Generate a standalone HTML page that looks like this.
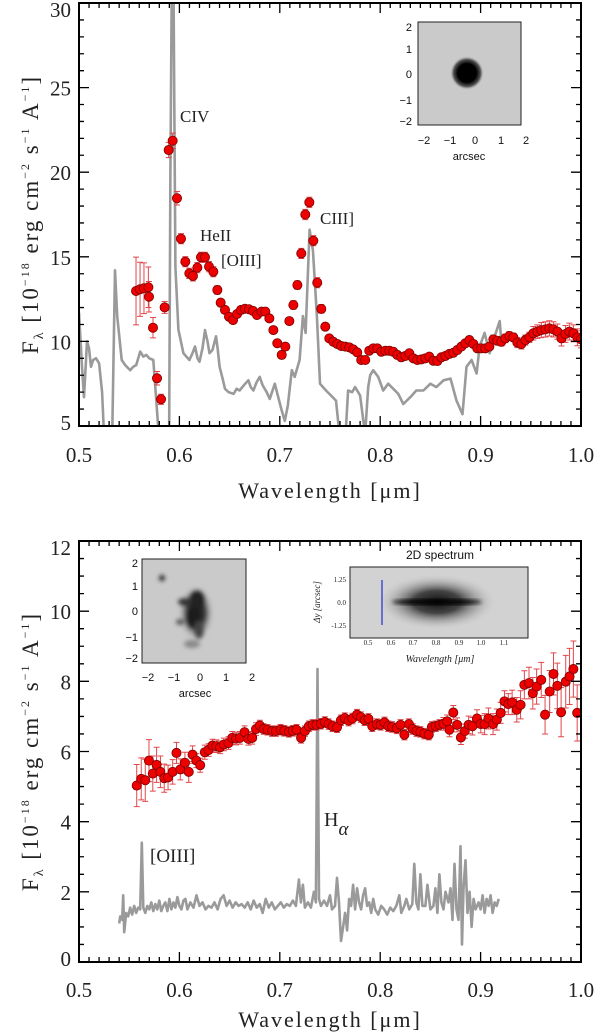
<!DOCTYPE html>
<html><head><meta charset="utf-8"><style>
body{margin:0;background:#fff;}
svg{display:block;}
text{font-family:"Liberation Serif",serif;fill:#222;}
.ins{font-family:"Liberation Sans",sans-serif;fill:#111;}
</style></head><body>
<svg id="fig" width="600" height="1035" viewBox="0 0 600 1035" xmlns="http://www.w3.org/2000/svg">
<defs>
<clipPath id="clipTop"><rect x="79" y="3" width="502" height="423"/></clipPath>
<clipPath id="clipBot"><rect x="79" y="541" width="502" height="421"/></clipPath>
<radialGradient id="blob"><stop offset="0" stop-color="#000"/><stop offset="0.55" stop-color="#000"/><stop offset="0.8" stop-color="#555"/><stop offset="1" stop-color="#c9c9c9" stop-opacity="0"/></radialGradient>
<radialGradient id="gal"><stop offset="0" stop-color="#111"/><stop offset="0.5" stop-color="#333"/><stop offset="1" stop-color="#c9c9c9" stop-opacity="0"/></radialGradient>
<radialGradient id="spec"><stop offset="0" stop-color="#111"/><stop offset="0.4" stop-color="#444"/><stop offset="1" stop-color="#cfcfcf" stop-opacity="0"/></radialGradient>
<filter id="bl"><feGaussianBlur stdDeviation="2"/></filter>
</defs>
<g id="top"></g>
<g id="bot"></g>

<!-- top inset -->
<g>
<rect x="418" y="22" width="103" height="103" fill="#cacaca" stroke="#222" stroke-width="1"/>
<circle cx="467" cy="73" r="17" fill="url(#blob)"/>
<g class="ins" font-size="11" text-anchor="end">
<text x="412" y="31" class="ins">2</text><text x="412" y="53" class="ins">1</text><text x="412" y="78" class="ins">0</text><text x="412" y="104" class="ins">−1</text><text x="412" y="125" class="ins">−2</text>
</g>
<g font-size="11" text-anchor="middle">
<text x="424" y="144" class="ins">−2</text><text x="450" y="144" class="ins">−1</text><text x="475" y="144" class="ins">0</text><text x="501" y="144" class="ins">1</text><text x="526" y="144" class="ins">2</text>
<text x="469" y="160" class="ins">arcsec</text>
</g>
</g>

<!-- bottom inset 1 -->
<g>
<rect x="142" y="559" width="104" height="104" fill="#cacaca" stroke="#222" stroke-width="1"/>
<g filter="url(#bl)">
<ellipse cx="196" cy="613" rx="18" ry="28" fill="url(#gal)"/>
<ellipse cx="197" cy="600" rx="8" ry="10" fill="#222"/>
<ellipse cx="193" cy="618" rx="7" ry="11" fill="#1a1a1a"/>
<ellipse cx="185" cy="602" rx="7" ry="4" fill="#333"/>
<ellipse cx="199" cy="630" rx="5" ry="9" fill="#444"/>
<ellipse cx="192" cy="644" rx="8" ry="4" fill="#888"/>
<ellipse cx="180" cy="622" rx="4" ry="3" fill="#555"/>
<circle cx="162" cy="578" r="3" fill="#222"/>
</g>
<g font-size="11" text-anchor="end">
<text x="138" y="567" class="ins">2</text><text x="138" y="590" class="ins">1</text><text x="138" y="615" class="ins">0</text><text x="138" y="641" class="ins">−1</text><text x="138" y="662" class="ins">−2</text>
</g>
<g font-size="11" text-anchor="middle">
<text x="148" y="681" class="ins">−2</text><text x="174" y="681" class="ins">−1</text><text x="200" y="681" class="ins">0</text><text x="226" y="681" class="ins">1</text><text x="252" y="681" class="ins">2</text>
<text x="195" y="697" class="ins">arcsec</text>
</g>
</g>

<!-- bottom inset 2 -->
<g>
<text x="440" y="559" font-size="12" text-anchor="middle" class="ins">2D spectrum</text>
<rect x="350" y="567" width="178" height="71" fill="#d2d2d2" stroke="#222" stroke-width="1"/>
<ellipse cx="437" cy="602" rx="60" ry="28" fill="url(#spec)"/>
<ellipse cx="437" cy="602" rx="45" ry="3" fill="#000" filter="url(#bl)"/>
<line x1="382" y1="580" x2="382" y2="625" stroke="#1f2fd0" stroke-width="1.2"/>
<g font-size="7" text-anchor="end" font-family="Liberation Serif,serif">
<text x="346" y="582">1.25</text><text x="346" y="605">0.0</text><text x="346" y="628">-1.25</text>
</g>
<g font-size="7" text-anchor="middle">
<text x="368" y="645">0.5</text><text x="391" y="645">0.6</text><text x="413" y="645">0.7</text><text x="436" y="645">0.8</text><text x="459" y="645">0.9</text><text x="481" y="645">1.0</text><text x="504" y="645">1.1</text>
<text x="440" y="662" font-size="10" font-style="italic">Wavelength [μm]</text>
</g>
<text x="0" y="0" font-size="9" font-style="italic" text-anchor="middle" transform="translate(320,602) rotate(-90)">Δy [arcsec]</text>
</g>
</svg>
<script>
// ---------- TOP PANEL DATA ----------
const topWave=[.5568,.5608,.5647,.5691,.5697,.5737,.5777,.5817,.5853,.5893,.5933,.5976,.6016,.6059,.6099,.6135,.6179,.6215,.6255,.6295,.6338,.6378,.6411,.6454,.6494,.6534,.6574,.6614,.6653,.6693,.6733,.6773,.6819,.6856,.6896,.6936,.6975,.7019,.7055,.7095,.7135,.7175,.7214,.7254,.7294,.7334,.7373,.7413,.7453,.7493,.7533,.7572,.7612,.7652,.7692,.7732,.7771,.7811,.7851,.7891,.7931,.7971,.8011,.8051,.8091,.8130,.8170,.8210,.8250,.8290,.8330,.8370,.8410,.8449,.8489,.8529,.8569,.8609,.8649,.8689,.8729,.8768,.8808,.8848,.8888,.8928,.8967,.9007,.9047,.9087,.9127,.9167,.9207,.9246,.9286,.9326,.9366,.9406,.9446,.9486,.9525,.9565,.9605,.9645,.9685,.9725,.9765,.9805,.9845,.9884,.9924,.9964,1.0];
const topFlux=[12.98,13.08,13.14,13.2,12.64,10.81,7.82,6.58,12.01,21.31,21.86,18.46,16.07,14.71,14.02,13.87,14.36,14.97,14.97,14.42,14.12,13.04,12.29,11.86,11.46,11.26,11.62,11.86,11.93,11.9,11.8,11.56,11.76,11.76,11.36,10.67,9.89,9.2,9.69,11.2,12.15,13.33,15.2,17.5,18.22,15.95,13.47,11.92,10.87,10.18,9.98,9.85,9.73,9.69,9.65,9.53,9.35,8.9,8.9,9.45,9.59,9.59,9.39,9.45,9.45,9.39,9.2,9.06,9.14,9.3,9.0,8.9,8.94,9.0,9.1,8.86,8.84,9.06,9.14,9.26,9.33,9.49,9.69,9.89,10.08,9.85,9.59,9.59,9.59,9.69,10.12,10.04,9.98,10.18,10.32,10.24,9.93,9.85,10.08,10.24,10.48,10.58,10.67,10.71,10.77,10.71,10.58,10.18,10.44,10.58,10.48,10.24,10.12];
const topErr=[2.0,1.6,1.5,1.2,0.9,0.6,0.4,0.3,0.35,0.45,0.45,0.4,0.3,0.3,0.3,0.3,0.3,0.3,0.3,0.3,0.3,0.25,0.2,0.2,0.2,0.2,0.2,0.2,0.2,0.2,0.2,0.2,0.2,0.2,0.2,0.2,0.2,0.2,0.2,0.2,0.25,0.25,0.3,0.3,0.3,0.3,0.3,0.25,0.2,0.2,0.2,0.2,0.2,0.2,0.2,0.2,0.2,0.2,0.2,0.2,0.2,0.2,0.2,0.2,0.2,0.2,0.2,0.2,0.2,0.2,0.2,0.2,0.2,0.2,0.2,0.2,0.2,0.2,0.2,0.2,0.2,0.2,0.2,0.2,0.2,0.2,0.2,0.2,0.2,0.2,0.25,0.25,0.25,0.25,0.25,0.25,0.3,0.3,0.3,0.3,0.4,0.4,0.45,0.45,0.45,0.45,0.45,0.45,0.5,0.5,0.5,0.5,0.5];
const topLineWave=[.500,.503,.505,.508,.510,.512,.514,.517,.520,.523,.526,.530,.533,.5359,.538,.5425,.546,.551,.554,.557,.561,.564,.567,.570,.574,.577,.580,.585,.5897,.591,.5925,.594,.596,.599,.604,.607,.610,.613,.6155,.618,.620,.623,.6255,.628,.630,.633,.6365,.638,.640,.643,.6454,.649,.654,.657,.660,.664,.6687,.671,.6737,.677,.680,.683,.687,.690,.695,.698,.702,.705,.708,.712,.7148,.7197,.723,.7257,.7297,.733,.737,.740,.743,.746,.751,.756,.7595,.765,.768,.772,.775,.780,.785,.788,.790,.793,.798,.803,.808,.813,.818,.823,.830,.836,.843,.850,.856,.863,.870,.876,.882,.886,.891,.896,.899,.904,.909,.914,.919,.921];
const topLineFlux=[11.7,8.5,6.7,10.0,9.6,8.5,8.9,9.0,8.7,7.0,3.0,2.0,4.0,14.2,11.5,8.9,8.6,8.3,8.5,8.6,9.4,9.1,9.2,9.0,8.9,6.5,4.0,3.0,4.0,20,32,32,14.4,10.7,9.3,9.1,8.9,9.3,9.7,9.0,8.8,9.6,10.67,10.0,9.3,9.5,10.3,9.6,8.5,7.8,7.2,7.0,6.9,7.2,7.1,7.4,7.7,7.3,7.1,7.6,7.9,7.4,7.0,6.6,7.5,6.8,5.9,5.3,6.2,8.3,7.9,8.9,11.5,10.5,16.6,15.4,11.5,7.5,7.3,7.1,6.8,6.5,4.5,4.0,7.1,7.0,7.3,6.8,4.5,7.3,8.0,8.3,7.9,7.1,7.5,7.2,6.9,6.3,6.7,7.1,7.1,7.5,7.3,7.7,7.8,6.5,5.7,8.5,8.9,8.1,9.7,10.5,9.3,10.3,11.2,9.7];
const topYTicks=[5,10,15,20,25,30];
// ---------- BOTTOM PANEL DATA ----------
const botWave=[.5575,.562,.566,.5697,.5735,.5773,.5811,.5849,.5887,.5933,.5971,.6009,.6055,.6093,.6131,.6169,.6207,.6253,.6291,.6329,.6367,.6405,.6443,.6489,.6527,.6565,.6603,.6649,.6687,.6725,.6763,.6801,.6839,.6877,.6923,.6961,.7007,.7045,.7091,.7129,.7167,.7212,.725,.7289,.7327,.7365,.741,.7449,.7487,.7525,.757,.7609,.7647,.7685,.7723,.7769,.7807,.7845,.7883,.7921,.7967,.8005,.8043,.8081,.8119,.8165,.8203,.8241,.8286,.8324,.8362,.84,.8439,.8484,.8515,.8553,.8591,.8629,.8667,.869,.8728,.8766,.8804,.8842,.8881,.8919,.8964,.9002,.904,.9078,.9124,.9162,.92,.9238,.9276,.9314,.936,.9398,.9436,.9482,.952,.9558,.9604,.9642,.9688,.9726,.9764,.9802,.9848,.9886,.9924,.9962];
const botFlux=[5.03,5.22,5.18,5.74,5.37,5.62,5.42,5.24,5.26,5.42,5.96,5.49,5.68,5.42,5.91,5.74,5.61,5.98,6.04,6.17,6.15,6.12,6.2,6.24,6.39,6.37,6.39,6.55,6.36,6.39,6.64,6.74,6.64,6.62,6.58,6.58,6.62,6.59,6.56,6.59,6.62,6.39,6.58,6.72,6.76,6.76,6.79,6.84,6.78,6.72,6.69,6.89,6.95,6.88,6.94,7.05,6.98,6.89,6.93,6.72,6.78,6.76,6.83,6.72,6.70,6.66,6.76,6.48,6.78,6.64,6.58,6.56,6.51,6.48,6.70,6.72,6.76,6.79,6.86,6.62,7.11,6.76,6.40,6.58,6.76,6.72,6.94,6.78,6.78,6.94,6.78,6.91,7.10,7.43,7.35,7.40,7.19,7.33,7.90,7.95,7.66,7.85,8.04,7.05,7.71,8.21,7.87,7.12,7.99,8.14,8.35,7.10];
const botErr=[0.6,0.6,0.6,0.6,0.5,0.5,0.45,0.4,0.35,0.35,0.3,0.3,0.3,0.3,0.25,0.2,0.2,0.2,0.18,0.18,0.18,0.18,0.18,0.18,0.18,0.18,0.18,0.18,0.18,0.18,0.18,0.15,0.15,0.15,0.15,0.15,0.15,0.15,0.15,0.15,0.15,0.15,0.15,0.15,0.15,0.15,0.15,0.15,0.15,0.15,0.15,0.15,0.15,0.15,0.15,0.15,0.15,0.15,0.15,0.15,0.15,0.15,0.15,0.15,0.15,0.15,0.15,0.15,0.15,0.15,0.15,0.15,0.15,0.15,0.15,0.15,0.15,0.18,0.18,0.2,0.2,0.2,0.2,0.2,0.25,0.25,0.25,0.25,0.3,0.3,0.3,0.3,0.3,0.3,0.3,0.35,0.35,0.4,0.4,0.45,0.45,0.5,0.5,0.55,0.6,0.6,0.65,0.7,0.75,0.8,0.8,0.8];
const botLineWave=[.540,.541,.543,.544,.545,.547,.549,.551,.553,.555,.557,.559,.561,.5625,.564,.566,.568,.570,.572,.574,.576,.578,.580,.582,.584,.586,.588,.590,.592,.594,.596,.598,.600,.602,.604,.606,.608,.611,.614,.617,.620,.623,.626,.629,.632,.635,.638,.641,.644,.647,.650,.653,.656,.659,.662,.665,.668,.671,.674,.677,.680,.683,.686,.689,.692,.695,.698,.701,.704,.707,.710,.713,.716,.719,.721,.723,.725,.728,.731,.734,.736,.7375,.739,.741,.744,.747,.750,.752,.755,.757,.759,.761,.763,.765,.767,.769,.771,.773,.775,.777,.779,.781,.783,.785,.787,.789,.791,.793,.795,.798,.801,.804,.807,.810,.813,.816,.819,.821,.824,.826,.829,.832,.834,.836,.838,.840,.842,.845,.847,.850,.853,.855,.857,.859,.861,.863,.865,.868,.870,.872,.874,.876,.878,.880,.8815,.883,.885,.887,.889,.891,.893,.895,.898,.900,.902,.904,.906,.908,.910,.912,.914,.916,.918];
const botLineFlux=[1.1,1.3,1.2,1.9,0.85,1.4,1.3,1.55,1.35,1.6,1.4,1.55,1.5,3.4,1.55,1.4,1.6,1.5,1.7,1.45,1.65,1.5,1.75,1.45,1.6,1.7,1.45,1.8,1.5,1.7,1.55,1.85,1.6,1.5,1.75,1.8,1.5,1.7,1.55,1.9,1.6,1.7,1.5,1.6,1.55,1.7,1.5,1.8,1.9,1.6,1.75,1.55,1.7,1.6,1.65,1.55,1.7,1.5,1.75,1.55,1.65,1.4,1.8,1.55,1.7,1.5,1.6,1.7,1.55,1.65,1.6,1.75,1.6,2.35,1.7,2.2,1.55,1.7,1.55,2.0,1.7,8.35,1.8,1.6,1.75,1.6,1.9,1.5,1.6,2.4,1.7,0.6,1.0,1.4,0.9,1.8,1.6,2.2,1.5,2.1,1.7,1.5,1.9,2.1,1.6,1.7,1.4,1.8,1.5,1.35,1.6,1.5,1.35,1.55,1.45,1.6,1.9,1.4,1.6,1.8,1.5,1.65,2.8,1.7,1.5,2.5,1.6,1.6,2.2,1.5,1.6,2.1,1.4,2.5,1.7,1.5,2.0,1.7,2.1,1.2,2.8,1.5,1.2,3.3,0.5,2.1,2.9,1.4,2.0,1.0,1.8,1.5,1.7,1.5,1.9,1.4,1.8,1.6,1.9,1.4,1.7,1.6,1.8];
const botYTicks=[0,2,4,6,8,10,12];
const xTicks=[0.5,0.6,0.7,0.8,0.9,1.0];
const xTickLabels=["0.5","0.6","0.7","0.8","0.9","1.0"];

const NS="http://www.w3.org/2000/svg";
function mk(tag,attrs,parent){const e=document.createElementNS(NS,tag);for(const k in attrs)e.setAttribute(k,attrs[k]);parent.appendChild(e);return e;}

function panel(g,cfg){
  const X=v=>cfg.x0+(v-0.5)/0.5*(cfg.x1-cfg.x0);
  const Y=v=>cfg.yb-(v-cfg.ymin)/(cfg.ymax-cfg.ymin)*(cfg.yb-cfg.yt);
  const plot=mk('g',{'clip-path':'url(#'+cfg.clip+')'},g);
  let d='';
  cfg.lw.forEach((w,i)=>{d+=(i?'L':'M')+X(w).toFixed(1)+' '+Y(cfg.lf[i]).toFixed(1);});
  const ln=mk('path',{d:d,fill:'none',stroke:'#9a9a9a','stroke-width':2.6,'stroke-linejoin':'round'},plot);
  
  
  const eg=mk('g',{stroke:'#e2474b','stroke-width':1},plot);
  
  
  cfg.w.forEach((w,i)=>{
    const x=X(w),y1=Y(cfg.f[i]-cfg.e[i]),y2=Y(cfg.f[i]+cfg.e[i]);
    const eb=mk('path',{d:`M${x} ${y1}V${y2}M${x-3} ${y1}H${x+3}M${x-3} ${y2}H${x+3}`},eg);
    
    
  });
  const pg=mk('g',{},plot);
  
  
  cfg.w.forEach((w,i)=>{
    const c=mk('circle',{cx:X(w),cy:Y(cfg.f[i]),r:4.6,fill:'#ee0000',stroke:'#7a0000','stroke-width':0.8},pg);
    
    
  });
  const fr=mk('rect',{x:cfg.x0,y:cfg.yt,width:cfg.x1-cfg.x0,height:cfg.yb-cfg.yt,fill:'none',stroke:'#000','stroke-width':2},g);
  
  
  let td='';
  for(let k=0;k<=50;k++){const v=0.5+k*0.01;const x=X(v);const L=(k%10===0)?10:5;
    td+=`M${x} ${cfg.yb}V${cfg.yb-L}M${x} ${cfg.yt}V${cfg.yt+L}`;}
  for(let v=cfg.ymin;v<=cfg.ymax+1e-9;v+=cfg.minor){const y=Y(v);const isM=Math.abs(v/cfg.major-Math.round(v/cfg.major))<1e-6;const L=isM?10:5;
    td+=`M${cfg.x0} ${y}H${cfg.x0+L}M${cfg.x1} ${y}H${cfg.x1-L}`;}
  mk('path',{d:td,stroke:'#000','stroke-width':1.3,fill:'none'},g);
  const xl=mk('g',{'font-size':21,'text-anchor':'middle'},g);
  
  
  xTicks.forEach((v,i)=>{const t=mk('text',{x:X(v),y:cfg.yb+cfg.tlo},xl);t.textContent=xTickLabels[i];});
  const yl=mk('g',{'font-size':21,'text-anchor':'end'},g);
  
  
  cfg.yt_.forEach(v=>{let y=Y(v)+8;if(v===cfg.ymax)y=Y(v)+14;if(v===cfg.ymin)y=Y(v)+4;const t=mk('text',{x:cfg.x0-8,y:y},yl);t.textContent=String(v);});
  const xt=mk('text',{x:(cfg.x0+cfg.x1)/2,y:cfg.yb+cfg.tto,'font-size':22,'text-anchor':'middle','letter-spacing':'2'},g);
  xt.textContent='Wavelength [μm]';
  
  
  const yt=mk('text',{transform:`translate(38,${(cfg.yt+cfg.yb)/2}) rotate(-90)`,'font-size':23,'text-anchor':'middle','letter-spacing':'2'},g);
  yt.innerHTML='F<tspan font-size="14" dy="5">λ</tspan><tspan dy="-5"> [10</tspan><tspan font-size="12" dy="-9">−18</tspan><tspan dy="9"> erg cm</tspan><tspan font-size="12" dy="-9">−2</tspan><tspan dy="9"> s</tspan><tspan font-size="12" dy="-9">−1</tspan><tspan dy="9"> A</tspan><tspan font-size="12" dy="-9">−1</tspan><tspan dy="9">]</tspan>';
  
  
}

panel(document.getElementById('top'),{name:'top',x0:79,x1:581,yt:3,yb:426,ymin:5,ymax:30,major:5,minor:1,yt_:topYTicks,clip:'clipTop',tlo:36,tto:72,
  w:topWave,f:topFlux,e:topErr,lw:topLineWave,lf:topLineFlux});
panel(document.getElementById('bot'),{name:'bottom',x0:79,x1:581,yt:541,yb:962,ymin:0,ymax:12,major:2,minor:0.5,yt_:botYTicks,clip:'clipBot',tlo:35,tto:65,
  w:botWave,f:botFlux,e:botErr,lw:botLineWave,lf:botLineFlux});

const fig=document.getElementById('fig');
function lab(txt,x,y,size,name){const t=mk('text',{x:x,y:y,'font-size':size},fig);t.innerHTML=txt;
  
  }
lab('CIV',180,122,17,'civ-label');
lab('HeII',200,241,17,'heii-label');
lab('[OIII]',221,266,17,'oiii-label-top');
lab('CIII]',320,224,17,'ciii-label');
lab('[OIII]',150,862,19,'oiii-label-bottom');
lab('H<tspan font-size="19" font-style="italic" dy="9">α</tspan>',324,826,20,'h-alpha-label');
</script>
</body></html>
